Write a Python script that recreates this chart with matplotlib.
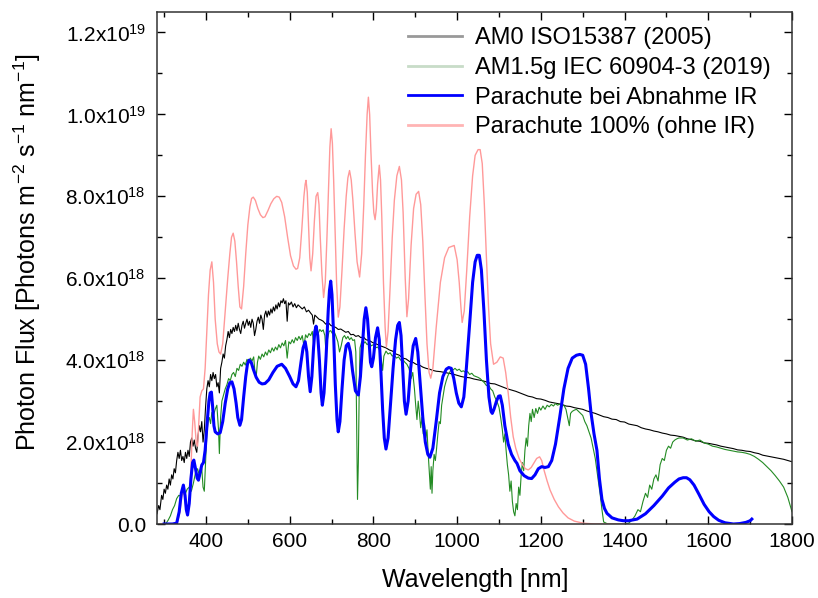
import matplotlib
matplotlib.use("Agg")
import matplotlib.pyplot as plt
import matplotlib.ticker as ticker
import numpy as np

plt.rcParams['font.family'] = ['Liberation Sans', 'DejaVu Sans']
plt.rcParams['mathtext.fontset'] = 'custom'
plt.rcParams['mathtext.rm'] = 'Liberation Sans'
plt.rcParams['mathtext.it'] = 'Liberation Sans:italic'
plt.rcParams['mathtext.default'] = 'regular'

# ---------------------------------------------------------------------------
# Daten (Photonenfluss in Einheiten von 1e18 Photons m^-2 s^-1 nm^-1)
# ---------------------------------------------------------------------------
am0_wl = [283, 287, 290, 294, 297, 300, 303, 306, 309, 312, 315, 318, 321, 324, 327, 330,
          333, 336, 339, 342, 345, 348, 351, 354, 357, 360, 363, 366, 369, 372, 375, 378,
          381, 384, 387, 390, 393, 396, 399, 402, 405, 408, 411, 414, 417, 420, 423, 426,
          429, 432, 435, 438, 441, 444, 447, 450, 453, 456, 459, 462, 465, 468, 471, 474,
          477, 480, 483, 486, 489, 492, 495, 498, 501, 504, 507, 510, 513, 516, 519, 522,
          525, 528, 531, 534, 537, 540, 543, 546, 549, 552, 555, 558, 561, 564, 567, 570,
          573, 576, 579, 582, 585, 588, 591, 594, 597, 600, 604, 608, 612, 616, 620, 625,
          630, 635, 640, 645, 650, 654, 657, 660, 665, 670, 675, 680, 686, 692, 698, 704,
          710, 716, 722, 728, 734, 740, 746, 752, 758, 764, 770, 776, 782, 790, 798, 806,
          814, 822, 830, 838, 846, 854, 862, 870, 878, 886, 894, 902, 910, 918, 926, 934,
          942, 950, 960, 970, 980, 990, 1000, 1010, 1020, 1030, 1040, 1050, 1060, 1070,
          1080, 1090, 1100, 1110, 1120, 1130, 1140, 1150, 1160, 1170, 1180, 1190, 1200,
          1210, 1220, 1230, 1240, 1250, 1260, 1270, 1280, 1290, 1300, 1310, 1320, 1330,
          1340, 1350, 1360, 1370, 1380, 1390, 1400, 1410, 1420, 1430, 1440, 1450, 1460,
          1470, 1480, 1490, 1500, 1510, 1520, 1530, 1540, 1550, 1560, 1570, 1580, 1590,
          1600, 1610, 1620, 1630, 1640, 1650, 1660, 1670, 1680, 1690, 1700, 1710, 1720,
          1730, 1740, 1750, 1760, 1770, 1780, 1790, 1800]
am0_flux = [0.25, 0.45, 0.35, 0.7, 0.6, 0.85, 0.75, 0.95, 0.85, 1.1, 0.95, 1.2, 1.1, 1.35, 1.25, 1.55,
            1.75, 1.6, 1.8, 1.55, 1.65, 1.5, 1.75, 1.6, 1.8, 1.65, 2.0, 2.1, 1.9, 2.05, 1.85, 1.75,
            2.15, 2.4, 2.25, 2.5, 2.0, 2.3, 2.85, 3.3, 3.5, 3.35, 3.65, 3.5, 3.7, 3.55, 3.65, 3.35,
            3.45, 3.2, 3.8, 3.95, 4.15, 4.05, 4.35, 4.5, 4.7, 4.55, 4.75, 4.65, 4.8, 4.7, 4.85, 4.72,
            4.9, 4.75, 4.65, 4.85, 4.95, 4.78, 4.9, 5.0, 4.85, 4.95, 4.8, 5.0, 4.9, 4.6, 4.75, 4.95,
            5.05, 4.9, 5.1, 5.0, 4.75, 5.1, 5.2, 5.05, 5.2, 5.1, 5.25, 5.15, 5.3, 5.2, 5.35, 5.25,
            5.4, 5.3, 5.45, 5.4, 5.5, 5.38, 5.45, 4.95, 5.4, 5.35, 5.42, 5.3, 5.38, 5.28, 5.35, 5.3,
            5.25, 5.3, 5.18, 5.22, 5.15, 5.1, 4.88, 5.1, 5.05, 5.0, 4.98, 4.95, 4.88, 4.92, 4.85, 4.82,
            4.8, 4.75, 4.76, 4.72, 4.68, 4.7, 4.62, 4.63, 4.58, 4.6, 4.55, 4.57, 4.5, 4.48, 4.43, 4.4,
            4.36, 4.33, 4.3, 4.25, 4.22, 4.15, 4.12, 4.05, 4.03, 3.97, 3.95, 3.9, 3.88, 3.83, 3.8, 3.78,
            3.75, 3.73, 3.72, 3.7, 3.68, 3.66, 3.63, 3.6, 3.58, 3.57, 3.54, 3.52, 3.5, 3.47,
            3.43, 3.42, 3.38, 3.34, 3.3, 3.27, 3.24, 3.2, 3.16, 3.12, 3.1, 3.06, 3.05,
            3.02, 2.98, 2.96, 2.94, 2.92, 2.88, 2.87, 2.84, 2.82, 2.8, 2.76, 2.73, 2.7,
            2.66, 2.62, 2.6, 2.56, 2.55, 2.5, 2.49, 2.44, 2.42, 2.4, 2.35, 2.32, 2.3,
            2.27, 2.25, 2.22, 2.2, 2.17, 2.16, 2.14, 2.12, 2.08, 2.06, 2.03, 2.02, 1.98,
            1.97, 1.95, 1.93, 1.9, 1.88, 1.86, 1.84, 1.81, 1.8, 1.78, 1.77, 1.74, 1.72,
            1.68, 1.66, 1.64, 1.62, 1.6, 1.58, 1.55, 1.52]

am15_wl = [300, 305, 310, 315, 320, 325, 330, 335, 340, 345, 350, 355, 360, 365, 370, 375, 380, 385,
           390, 393, 396, 399, 402, 405, 408, 411, 414, 418, 422, 426, 430, 432, 435, 438, 442, 446,
           450, 454, 458, 462, 466, 470, 474, 478, 482, 486, 490, 494, 498, 502, 506, 510, 514, 517,
           520, 523, 526, 530, 534, 538, 542, 546, 550, 554, 558, 562, 566, 570, 574, 578, 582, 586,
           590, 594, 598, 602, 606, 610, 614, 618, 622, 626, 630, 634, 638, 642, 646, 650, 654, 657,
           660, 664, 668, 672, 676, 680, 684, 687, 690, 694, 698, 702, 706, 710, 715, 719, 723, 727,
           731, 735, 739, 743, 747, 751, 755, 758, 760, 762, 764, 766, 768, 772, 776, 780, 785, 790,
           795, 800, 805, 810, 815, 819, 822, 825, 830, 835, 840, 845, 850, 855, 860, 865, 870, 875,
           880, 885, 890, 894, 898, 901, 904, 907, 910, 913, 916, 919, 922, 925, 928, 931, 934, 936,
           938, 940, 942, 945, 948, 951, 954, 957, 960, 963, 966, 970, 974, 978, 982, 986, 990, 995,
           1000, 1005, 1010, 1015, 1020, 1025, 1030, 1035, 1040, 1045, 1050, 1055, 1060, 1065, 1070,
           1075, 1080, 1085, 1090, 1095, 1100, 1104, 1108, 1111, 1114, 1117, 1120, 1123, 1126, 1129,
           1132, 1135, 1138, 1141, 1144, 1147, 1150, 1153, 1156, 1159, 1162, 1165, 1168, 1171, 1174,
           1177, 1180, 1184, 1188, 1192, 1196, 1200, 1205, 1210, 1215, 1220, 1225, 1230, 1235, 1240,
           1245, 1250, 1255, 1260, 1264, 1268, 1271, 1275, 1280, 1285, 1290, 1295, 1300, 1305, 1310,
           1315, 1320, 1325, 1330, 1334, 1338, 1342, 1346, 1350, 1360, 1380, 1400, 1410, 1418, 1425,
           1432, 1438, 1444, 1450, 1455, 1460, 1465, 1470, 1475, 1480, 1485, 1490, 1495, 1500, 1505,
           1510, 1515, 1520, 1525, 1530, 1540, 1550, 1560, 1570, 1580, 1590, 1600, 1610, 1620, 1630,
           1640, 1650, 1660, 1670, 1680, 1690, 1700, 1710, 1720, 1730, 1740, 1750, 1760, 1770, 1780,
           1790, 1800]
am15_flux = [0.0, 0.02, 0.1, 0.2, 0.35, 0.45, 0.62, 0.7, 0.68, 0.75, 0.72, 0.85, 0.9, 0.8, 1.0, 1.25, 1.35, 1.15,
             1.35, 0.9, 0.8, 1.5, 2.2, 2.5, 2.6, 2.45, 2.72, 2.65, 2.8, 2.9, 2.3, 1.72, 2.6, 3.0, 3.15, 3.3,
             3.4, 3.55, 3.5, 3.65, 3.7, 3.6, 3.8, 3.75, 3.9, 3.85, 3.95, 3.88, 4.02, 3.95, 4.05, 3.98, 4.08, 3.7,
             3.6, 3.95, 4.1, 4.02, 4.15, 4.08, 4.2, 4.12, 4.25, 4.18, 4.3, 4.22, 4.32, 4.25, 4.38, 4.3, 4.42, 4.35,
             4.48, 4.05, 4.45, 4.4, 4.5, 4.42, 4.55, 4.48, 4.58, 4.5, 4.6, 4.35, 4.62, 4.55, 4.65, 4.6, 4.7, 4.4,
             4.68, 4.72, 4.65, 4.75, 4.7, 4.74, 4.6, 4.15, 4.5, 4.7, 4.72, 4.65, 4.7, 4.6, 4.45, 4.2, 4.35, 4.55,
             4.6, 4.52, 4.58, 4.5, 4.55, 4.48, 4.5, 4.2, 2.5, 0.6, 1.5, 3.2, 4.3, 4.45, 4.4, 4.45, 4.38, 4.42,
             4.35, 4.38, 4.3, 4.32, 4.25, 4.0, 3.75, 4.1, 4.22, 4.15, 4.18, 4.1, 4.12, 4.05, 4.08, 4.0, 4.02, 3.95,
             3.9, 3.8, 3.55, 3.7, 3.3, 2.9, 2.55, 3.0, 2.7, 2.35, 2.6, 2.2, 2.45, 2.1, 2.3, 1.7, 1.2, 0.85,
             1.4, 0.75, 1.3, 1.7, 1.55, 1.85, 2.2, 2.5, 2.45, 2.9, 3.1, 3.35, 3.5, 3.62, 3.7, 3.78, 3.76, 3.8,
             3.75, 3.78, 3.72, 3.74, 3.7, 3.72, 3.65, 3.68, 3.62, 3.6, 3.58, 3.55, 3.5, 3.45, 3.38,
             3.4, 3.3, 3.25, 3.1, 3.0, 2.85, 2.6, 2.3, 2.0, 2.2, 1.8, 1.45, 1.2, 0.8, 1.05,
             0.55, 0.3, 0.2, 0.5, 0.35, 0.9, 0.7, 1.2, 1.5, 1.3, 1.8, 2.1, 1.9, 2.4, 2.7,
             2.5, 2.8, 2.6, 2.82, 2.7, 2.85, 2.78, 2.88, 2.8, 2.9, 2.86, 2.92, 2.88, 2.94, 2.9,
             2.93, 2.88, 2.9, 2.8, 2.6, 2.4, 2.7, 2.75, 2.78, 2.8, 2.75, 2.7, 2.65, 2.5, 2.4,
             2.25, 2.1, 1.85, 1.6, 1.3, 1.0, 0.7, 0.35, 0.05, 0.0, 0.0, 0.0, 0.02, 0.1, 0.2,
             0.35, 0.3, 0.55, 0.75, 0.65, 0.95, 0.85, 1.1, 1.2, 1.05, 1.45, 1.6, 1.55, 1.8, 1.9,
             1.85, 2.0, 2.05, 2.08, 2.1, 2.1, 2.05, 2.08, 2.02, 2.05, 1.98, 1.95, 1.9, 1.88, 1.85,
             1.82, 1.8, 1.78, 1.76, 1.75, 1.73, 1.7, 1.65, 1.58, 1.5, 1.4, 1.3, 1.18, 1.05, 0.9,
             0.65, 0.3]

abnahme_wl = [300, 320, 330, 336, 341, 346, 350, 353, 356, 360, 364, 368, 371, 375, 379, 382, 386, 390,
              394, 398, 403, 407, 410, 413, 416, 419, 422, 428, 434, 440, 446, 452, 457, 462, 467, 472,
              476, 481, 485, 490, 495, 499, 503, 508, 513, 520, 527, 534, 541, 550, 560, 570, 581, 590,
              600, 608, 615, 621, 627, 632, 637, 641, 645, 649, 653, 657, 660, 663, 667, 671, 675, 678,
              682, 687, 692, 695, 698, 701, 705, 709, 713, 716, 720, 725, 730, 735, 740, 745, 750, 757,
              764, 769, 774, 778, 782, 786, 790, 793, 796, 800, 805, 810, 814, 818, 822, 826, 830, 835,
              840, 847, 853, 858, 862, 866, 870, 874, 878, 883, 889, 895, 901, 906, 912, 918, 924, 930,
              935, 942, 950, 958, 966, 974, 980, 986, 992, 998, 1004, 1010, 1016, 1022, 1030, 1037, 1043,
              1048, 1053, 1058, 1064, 1070, 1076, 1081, 1084, 1088, 1094, 1099, 1103, 1108, 1114, 1122,
              1130, 1138, 1143, 1150, 1160, 1170, 1178, 1186, 1194, 1202, 1210, 1218, 1226, 1235, 1245,
              1255, 1265, 1275, 1285, 1293, 1300, 1307, 1314, 1320, 1327, 1334, 1340, 1346, 1352, 1358,
              1370, 1385, 1397, 1410, 1430, 1450, 1470, 1490, 1505, 1520, 1530, 1540, 1548, 1556, 1566,
              1578, 1590, 1602, 1613, 1625, 1640, 1660, 1675, 1690, 1700, 1704]
abnahme_flux = [0.0, 0.0, 0.02, 0.3, 0.75, 0.95, 0.7, 0.35, 0.22, 0.5, 1.1, 1.5, 1.56, 1.35, 1.12, 1.07, 1.25, 1.44,
                1.5, 1.8, 2.5, 3.0, 3.2, 3.22, 2.85, 2.4, 2.25, 2.2, 2.23, 2.5, 2.95, 3.3, 3.45, 3.47, 3.3, 2.95,
                2.6, 2.41, 2.55, 3.1, 3.6, 3.9, 4.0, 3.95, 3.78, 3.58, 3.46, 3.42, 3.43, 3.52, 3.7, 3.85, 3.9, 3.8,
                3.6, 3.42, 3.35, 3.5, 3.95, 4.3, 4.45, 4.2, 3.6, 3.23, 3.6, 4.3, 4.7, 4.83, 4.6, 4.0, 3.2, 2.9,
                3.2, 4.1, 5.2, 5.7, 5.93, 5.6, 4.6, 3.4, 2.55, 2.25, 2.5, 3.3, 4.0, 4.35, 4.41, 4.2, 3.75, 3.25,
                3.15, 3.6, 4.4, 5.0, 5.28, 5.0, 4.4, 3.95, 3.84, 4.05, 4.55, 4.79, 4.5, 3.7, 2.8, 2.1, 1.83, 2.1,
                2.8, 3.8, 4.5, 4.85, 4.92, 4.6, 3.8, 3.0, 2.68, 3.0, 3.8, 4.35, 4.53, 4.2, 3.4, 2.6, 2.0, 1.7,
                1.63, 1.85, 2.5, 3.2, 3.6, 3.78, 3.82, 3.8, 3.55, 3.2, 2.95, 2.86, 3.1, 3.8, 4.9, 5.9, 6.4,
                6.56, 6.56, 6.2, 5.2, 4.0, 3.1, 2.75, 2.7, 2.8, 3.0, 3.12, 3.13, 2.9, 2.4, 1.95,
                1.7, 1.55, 1.48, 1.3, 1.18, 1.12, 1.11, 1.2, 1.35, 1.4, 1.38, 1.4, 1.55, 1.95, 2.6,
                3.3, 3.8, 4.05, 4.12, 4.14, 4.12, 3.9, 3.3, 2.7, 2.2, 1.8, 1.1, 0.6, 0.38, 0.26,
                0.15, 0.1, 0.08, 0.08, 0.12, 0.25, 0.45, 0.68, 0.88, 1.02, 1.1, 1.13, 1.13, 1.08, 0.95,
                0.72, 0.48, 0.3, 0.18, 0.09, 0.03, 0.0, 0.01, 0.04, 0.08, 0.12]

voll_wl = [290, 320, 332, 338, 342, 346, 350, 353, 356, 360, 364, 367, 370, 373, 377, 380, 383, 386, 390,
           394, 398, 402, 406, 410, 414, 418, 422, 427, 431, 435, 440, 446, 452, 457, 461, 465, 469, 473,
           477, 481, 485, 490, 495, 500, 505, 509, 513, 518, 524, 530, 536, 541, 548, 555, 562, 569, 575,
           581, 588, 595, 602, 609, 615, 619, 624, 629, 634, 637, 639, 642, 645, 648, 651, 655, 659, 663,
           667, 670, 673, 677, 681, 685, 689, 693, 696, 699, 702, 705, 709, 712, 716, 720, 725, 730, 735,
           739, 743, 747, 751, 756, 761, 767, 772, 777, 781, 785, 788, 791, 794, 798, 801, 804, 807, 810,
           814, 817, 820, 824, 828, 831, 835, 840, 845, 850, 856, 862, 867, 871, 876, 880, 884, 890, 896,
           902, 908, 913, 918, 923, 928, 933, 937, 942, 950, 960, 970, 980, 993, 1000, 1005, 1009, 1012,
           1017, 1023, 1030, 1037, 1043, 1050, 1055, 1060, 1065, 1070, 1075, 1080, 1087, 1095, 1103,
           1110, 1116, 1122, 1128, 1134, 1140, 1148, 1156, 1163, 1170, 1177, 1184, 1190, 1197, 1202,
           1208, 1215, 1222, 1232, 1242, 1253, 1265, 1280, 1301, 1330, 1400]
voll_flux = [0.0, 0.0, 0.05, 0.3, 0.65, 0.85, 0.6, 0.3, 0.2, 0.5, 1.3, 2.2, 2.8, 2.5, 1.95, 1.9, 2.5, 3.1, 3.25,
             3.3, 3.8, 4.7, 5.6, 6.2, 6.4, 5.9, 5.0, 4.4, 4.2, 4.15, 4.4, 5.2, 6.0, 6.6, 7.0, 7.1, 6.9, 6.4,
             5.8, 5.3, 5.25, 5.8, 6.6, 7.3, 7.75, 7.95, 7.98, 7.9, 7.7, 7.55, 7.48, 7.5, 7.65, 7.82, 7.94, 8.0, 7.98,
             7.85, 7.5, 7.0, 6.55, 6.3, 6.22, 6.24, 6.5, 7.2, 8.0, 8.3, 8.39, 8.1, 7.3, 6.5, 6.18, 6.6, 7.4, 8.0,
             8.09, 7.8, 7.0, 6.1, 5.53, 5.9, 7.0, 8.3, 9.2, 9.65, 9.3, 8.4, 7.0, 5.9, 5.05, 5.3, 6.2, 7.2, 8.0,
             8.45, 8.63, 8.4, 7.9, 7.1, 6.4, 6.03, 6.6, 7.8, 9.0, 10.0, 10.42, 10.0, 9.1, 8.1, 7.6, 7.43, 7.7, 8.3,
             8.76, 8.4, 7.5, 5.9, 4.8, 4.32, 4.7, 5.8, 7.0, 7.9, 8.5, 8.73, 8.4, 7.6, 6.0, 5.06, 5.5, 6.8, 7.7,
             8.05, 8.12, 7.8, 6.9, 5.6, 4.4, 3.7, 3.56, 3.8, 4.8, 5.9, 6.5, 6.75, 6.8, 6.45, 5.9, 5.3, 4.92,
             5.2, 6.2, 7.5, 8.5, 9.0, 9.14, 9.14, 8.8, 7.8, 6.5, 5.3, 4.4, 3.9, 3.95, 4.08,
             4.05, 3.7, 3.2, 2.6, 2.13, 1.85, 1.6, 1.45, 1.35, 1.32, 1.38, 1.5, 1.6, 1.64, 1.55,
             1.3, 1.05, 0.83, 0.6, 0.42, 0.27, 0.15, 0.07, 0.02, 0.0, 0.0]

y_ticks = [0, 2e18, 4e18, 6e18, 8e18, 1e19, 1.2e19]
x_ticks = [400, 600, 800, 1000, 1200, 1400, 1600, 1800]

labels = ['AM0 ISO15387 (2005)', 'AM1.5g IEC 60904-3 (2019)',
          'Parachute bei Abnahme IR', 'Parachute 100% (ohne IR)']

# ---------------------------------------------------------------------------
fig = plt.figure(figsize=(8.18, 5.98), dpi=100)
ax = fig.add_axes([157 / 818, 1 - 524 / 598, (792 - 157) / 818, (524 - 12) / 598])

scale = 1e18
ax.plot(am0_wl, np.array(am0_flux) * scale, color='black', lw=0.8, label=labels[0])
ax.plot(am15_wl, np.array(am15_flux) * scale, color='#238b23', lw=0.8, label=labels[1])
ax.plot(voll_wl, np.array(voll_flux) * scale, color='#ff9999', lw=1.0, label=labels[3])
ax.plot(abnahme_wl, np.array(abnahme_flux) * scale, color='#0000ff', lw=2.2, label=labels[2])

ax.set_xlim(283, 1800)
ax.set_ylim(0, 1.25e19)

ax.xaxis.set_major_locator(ticker.FixedLocator(x_ticks))
ax.xaxis.set_minor_locator(ticker.MultipleLocator(100))
ax.yaxis.set_major_locator(ticker.FixedLocator(y_ticks))
ax.yaxis.set_minor_locator(ticker.MultipleLocator(1e18))


def fmt_y(v, pos):
    if v == 0:
        return '0.0'
    e = int(np.floor(np.log10(v)))
    m = v / 10 ** e
    return f'{m:.1f}x10$^{{{e}}}$'


ax.yaxis.set_major_formatter(ticker.FuncFormatter(fmt_y))

ax.tick_params(which='both', direction='in', top=True, right=True, labelsize=15, colors='black')
ax.tick_params(which='major', length=6, width=1.0)
ax.tick_params(which='minor', length=3.5, width=1.0)
ax.tick_params(axis='y', pad=8)
ax.tick_params(axis='x', pad=6)
for s in ax.spines.values():
    s.set_color('#333333')
    s.set_linewidth(1.1)

fig.text(475 / 818, 1 - 580 / 598, 'Wavelength [nm]', ha='center', va='center', fontsize=18)
fig.text(27 / 818, 1 - 252 / 598, 'Photon Flux [Photons m$^{-2}$ s$^{-1}$ nm$^{-1}$]',
         ha='center', va='center', rotation=90, fontsize=18)

h, l = ax.get_legend_handles_labels()
order = [0, 1, 3, 2]
leg = ax.legend([h[i] for i in order], [l[i] for i in order], loc='upper left',
                bbox_to_anchor=(408 / 818, 1 - 27 / 598), bbox_transform=fig.transFigure,
                frameon=False, fontsize=17, handlelength=2.3, handletextpad=0.55,
                labelspacing=0.33, borderpad=0, borderaxespad=0)
for line, c in zip(leg.get_lines(), ['#999999', '#c8dcc8', '#0000ff', '#ffb4b4']):
    line.set_color(c)
    line.set_linewidth(2.0)

fig.savefig('out.png', dpi=100)
